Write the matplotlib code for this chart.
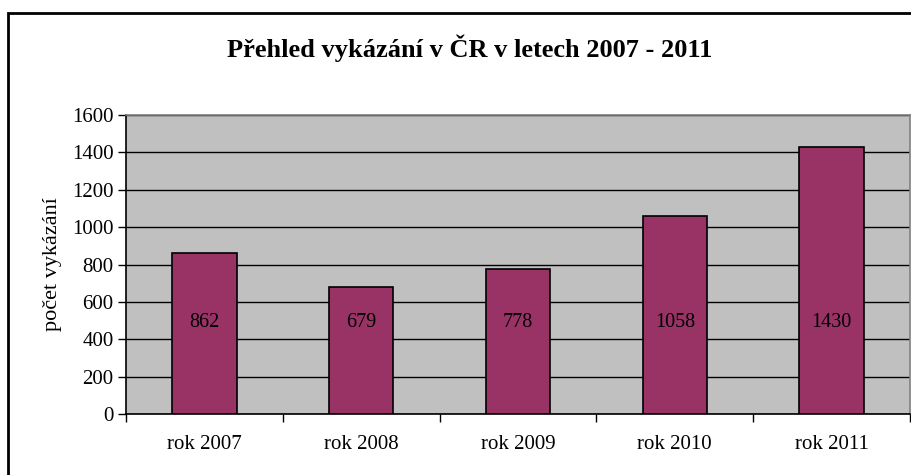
#!/usr/bin/env python3
import numpy as np
import matplotlib
matplotlib.use("Agg")
import matplotlib.pyplot as plt
from matplotlib.patches import Rectangle

YEARS = ["rok 2007", "rok 2008", "rok 2009", "rok 2010", "rok 2011"]
COUNTS = [862, 679, 778, 1058, 1430]
YTICKS = [0, 200, 400, 600, 800, 1000, 1200, 1400, 1600]

def main():
    plt.rcParams["font.family"] = ["Liberation Serif", "DejaVu Serif"]
    fig = plt.figure(figsize=(9.12, 4.75), dpi=100)
    ax = fig.add_axes([126/912, 61/475, 784/912, 299/475])
    x = np.arange(len(YEARS))
    ax.set_facecolor("#C0C0C0")
    ax.bar(x, COUNTS, width=0.41, color="#993366", edgecolor="black", linewidth=1.2, zorder=3)
    for xi, v in zip(x, COUNTS):
        ax.text(xi, 490, str(v), ha="center", va="center", fontsize=14.5, zorder=4)  # labels sit at same height in every bar
    ax.set_xlim(-0.5, len(YEARS)-0.5); ax.set_ylim(0, 1600)
    ax.set_yticks(YTICKS); ax.yaxis.grid(True, color="black", linewidth=1.0, zorder=1); ax.set_axisbelow(True)
    ax.set_xticks(np.arange(-0.5, len(YEARS)), labels=[""]*(len(YEARS)+1))
    ax.set_xticks(x, labels=YEARS, minor=True)
    ax.tick_params(axis="x", which="major", direction="out", length=6, width=1)
    ax.tick_params(axis="x", which="minor", length=0, pad=15, labelsize=15)
    ax.tick_params(axis="y", direction="out", length=6, width=1, labelsize=15, pad=3)
    ax.spines["left"].set_color("black"); ax.spines["bottom"].set_color("black")
    ax.spines["top"].set_color("#808080"); ax.spines["right"].set_color("#808080")
    for s in ax.spines.values(): s.set_linewidth(1.2)
    ax.set_ylabel("počet vykázání", fontsize=16, labelpad=7)
    fig.text(470/912, 1-48/475, "Přehled vykázání v ČR v letech 2007 - 2011", ha="center", va="center", fontsize=19, fontweight="bold")
    fig.patches.append(Rectangle((8/912, -0.1), 1.2, 1-13/475+0.1, transform=fig.transFigure, fill=False, edgecolor="black", linewidth=2))
    fig.savefig("out.png", dpi=100); plt.close(fig)

if __name__ == "__main__":
    main()
